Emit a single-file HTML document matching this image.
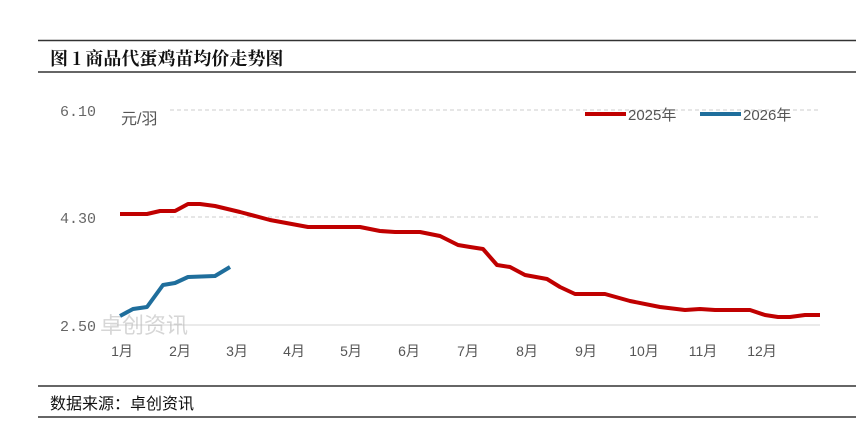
<!DOCTYPE html>
<html><head><meta charset="utf-8"><style>
body{margin:0;background:#fff;}
svg{display:block;font-family:"Liberation Sans","Noto Sans CJK SC",sans-serif;}
</style></head><body>
<svg width="868" height="435" viewBox="0 0 868 435">
<line x1="38" y1="40.5" x2="856" y2="40.5" stroke="#333" stroke-width="1.5"/>
<line x1="38" y1="72" x2="856" y2="72" stroke="#333" stroke-width="1.5"/>
<text x="50" y="65" font-size="18" font-weight="bold" fill="#111" font-family="'Noto Serif CJK SC','Noto Sans CJK SC',serif">图 1 商品代蛋鸡苗均价走势图</text>
<line x1="170" y1="110" x2="820" y2="110" stroke="#ccc" stroke-dasharray="4,3"/>
<line x1="170" y1="217" x2="820" y2="217" stroke="#ccc" stroke-dasharray="4,3"/>
<line x1="110" y1="325" x2="820" y2="325" stroke="#d5d5d5"/>
<g font-size="15" fill="#666" font-family="'Liberation Mono',monospace">
<text x="60" y="116">6.10</text><text x="60" y="223">4.30</text><text x="60" y="331">2.50</text>
</g>
<text x="121" y="124" font-size="16" fill="#555">元/羽</text>
<g font-size="14" fill="#555" text-anchor="middle">
<text x="122" y="356">1月</text><text x="180" y="356">2月</text><text x="237" y="356">3月</text><text x="294" y="356">4月</text><text x="351" y="356">5月</text><text x="409" y="356">6月</text><text x="468" y="356">7月</text><text x="527" y="356">8月</text><text x="586" y="356">9月</text><text x="644" y="356">10月</text><text x="703" y="356">11月</text><text x="762" y="356">12月</text>
</g>
<line x1="585" y1="114" x2="626" y2="114" stroke="#c00000" stroke-width="4"/>
<text x="628" y="120" font-size="15" fill="#555">2025年</text>
<line x1="700" y1="114" x2="741" y2="114" stroke="#1f6e9c" stroke-width="4"/>
<text x="743" y="120" font-size="15" fill="#555">2026年</text>
<polyline fill="none" stroke="#c00000" stroke-width="4" stroke-linejoin="round" points="120,214 147,214 160,211 175,211 188,204 200,204 215,206 240,212 270,220 308,227 360,227 380,231 395,232 420,232 440,236 458,245 470,247 483,249 497,265 510,267 525,275 547,279 560,287 575,294 605,294 630,301 660,307 685,310 700,309 715,310 750,310 765,315 778,317 790,317 805,315 820,315"/>
<polyline fill="none" stroke="#1f6e9c" stroke-width="4" stroke-linejoin="round" points="120,316 133,309 147,307 163,285 175,283 188,277 215,276 230,267"/>
<text x="100" y="333" font-size="22" fill="#bbb" opacity="0.6">卓创资讯</text>
<line x1="38" y1="386" x2="856" y2="386" stroke="#333" stroke-width="1.5"/>
<line x1="38" y1="417" x2="856" y2="417" stroke="#333" stroke-width="1.5"/>
<text x="50" y="409" font-size="16" fill="#111">数据来源：卓创资讯</text>
</svg>
</body></html>
